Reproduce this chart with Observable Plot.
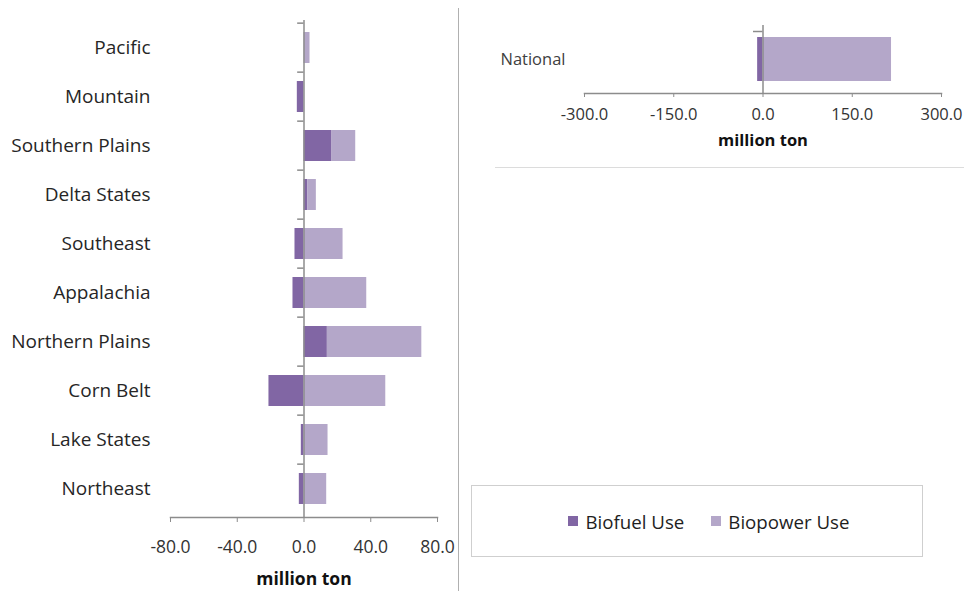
<!DOCTYPE html>
<html>
<head>
<meta charset="utf-8">
<script src="https://cdn.jsdelivr.net/npm/d3@7"></script>
<script src="https://cdn.jsdelivr.net/npm/@observablehq/plot@0.6"></script>
<style>
  html, body { margin: 0; padding: 0; background: #fff; }
  body { width: 964px; height: 591px; position: relative; overflow: hidden; font-family: "Open Sans", sans-serif; }
  #left { position: absolute; left: 0; top: 0; }
  #right { position: absolute; left: 470px; top: 0; }
  #sep { position: absolute; left: 458px; top: 8px; width: 1px; height: 583px; background: #b0b0b0; }
  #hline { position: absolute; left: 495px; top: 167px; width: 469px; height: 1px; background: #dcdcdc; }
  #legend { position: absolute; left: 471px; top: 485px; width: 426px; height: 70px; padding-left: 24px; border: 1px solid #cfcfcf;
            display: flex; align-items: center; justify-content: center; gap: 27px; font-size: 18.7px; color: #1e1e1e; }
  #legend .item { display: flex; align-items: center; gap: 7px; }
  #legend .sw { width: 10px; height: 10px; display: inline-block; }
  svg [aria-label$="axis label"] text { font-weight: bold; fill: #111; }
</style>
</head>
<body>
<div id="left"></div>
<div id="sep"></div>
<div id="right"></div>
<div id="hline"></div>
<div id="legend"></div>
<script>
// ---- data ----
const regions = ["Pacific", "Mountain", "Southern Plains", "Delta States", "Southeast",
                 "Appalachia", "Northern Plains", "Corn Belt", "Lake States", "Northeast"];
const biofuel  = [0.0, -4.0, 16.8, 2.2, -5.4, -6.6, 14.0, -21.0, -1.6, -2.8];
const biopower = [3.6,  0.0, 14.2, 5.2, 23.4, 37.6, 56.6,  49.0, 14.4, 13.6];

const nationalLabel = ["National"];
const nationalBiofuel = [-9.0];
const nationalBiopower = [216.0];

const seriesNames = ["Biofuel Use", "Biopower Use"];
const seriesColors = ["#8166a4", "#b4a7c9"];

const leftTicks = [-80, -40, 0, 40, 80];
const rightTicks = [-300, -150, 0, 150, 300];

// ---- tables ----
const regional = regions.flatMap((r, i) => [
  {region: r, series: seriesNames[0], value: biofuel[i]},
  {region: r, series: seriesNames[1], value: biopower[i]}
]);
const national = nationalLabel.flatMap((r, i) => [
  {region: r, series: seriesNames[0], value: nationalBiofuel[i]},
  {region: r, series: seriesNames[1], value: nationalBiopower[i]}
]);

const fmt = (d) => d.toFixed(1);
const axisColor = "#8c8c8c";
const leftStep = 49.7;   // band step in px (used for boundary tick offsets)
const rightStep = 56;

// ---- left chart ----
const left = Plot.plot({
  width: 458, height: 591,
  marginTop: 20, marginBottom: 74, marginLeft: 170, marginRight: 21,
  style: {fontFamily: "Open Sans", fontSize: "17px", color: "#262626", background: "transparent"},
  x: {domain: [-80, 80], ticks: leftTicks},
  y: {domain: regions, paddingInner: 0.362, paddingOuter: 0.181},
  color: {domain: seriesNames, range: seriesColors},
  marks: [
    Plot.barX(regional, {y: "region", x: "value", fill: "series", z: "series"}),
    Plot.ruleX([0], {stroke: axisColor, strokeWidth: 1.5}),
    Plot.ruleY(regions, {y: (d) => d, x1: -3.8, x2: 0, dy: -leftStep / 2, stroke: axisColor, strokeWidth: 1.5}),
    Plot.frame({anchor: "bottom", stroke: axisColor, strokeWidth: 1.5}),
    Plot.axisX({ticks: leftTicks, tickFormat: fmt, tickSize: 5, tickPadding: 18, fontSize: 17.5,
                stroke: axisColor, fill: "#333", label: "million ton", labelArrow: "none", labelAnchor: "center",
                labelOffset: 67}),
    Plot.axisY({tickSize: 0, tickPadding: 20, fontSize: 19, fill: "#262626", label: null})
  ]
});
document.getElementById("left").append(left);

// ---- right chart ----
const right = Plot.plot({
  width: 494, height: 175,
  marginTop: 25, marginBottom: 82, marginLeft: 114, marginRight: 23,
  style: {fontFamily: "Open Sans", fontSize: "16px", color: "#262626", background: "transparent"},
  x: {domain: [-300, 300], ticks: rightTicks},
  y: {domain: nationalLabel, padding: 0.214},
  color: {domain: seriesNames, range: seriesColors},
  marks: [
    Plot.barX(national, {y: "region", x: "value", fill: "series", z: "series"}),
    Plot.ruleX([0], {stroke: axisColor, strokeWidth: 1.5}),
    Plot.ruleY(nationalLabel, {y: (d) => d, x1: -16, x2: 0, dy: -rightStep / 2, stroke: axisColor, strokeWidth: 1.5}),
    Plot.frame({anchor: "bottom", stroke: axisColor, strokeWidth: 1.5}),
    Plot.axisX({ticks: rightTicks, tickFormat: fmt, tickSize: 4, tickPadding: 11, fontSize: 16.5,
                stroke: axisColor, fill: "#333", label: "million ton", labelArrow: "none", labelAnchor: "center",
                labelOffset: 52}),
    Plot.axisY({tickSize: 0, tickPadding: 19, fontSize: 16.5, fill: "#404040", label: null})
  ]
});
document.getElementById("right").append(right);

// ---- legend ----
const legend = document.getElementById("legend");
seriesNames.forEach((name, i) => {
  const item = document.createElement("div");
  item.className = "item";
  const sw = document.createElement("span");
  sw.className = "sw";
  sw.style.background = seriesColors[i];
  const label = document.createElement("span");
  label.textContent = name;
  item.append(sw, label);
  legend.append(item);
});
</script>
</body>
</html>
